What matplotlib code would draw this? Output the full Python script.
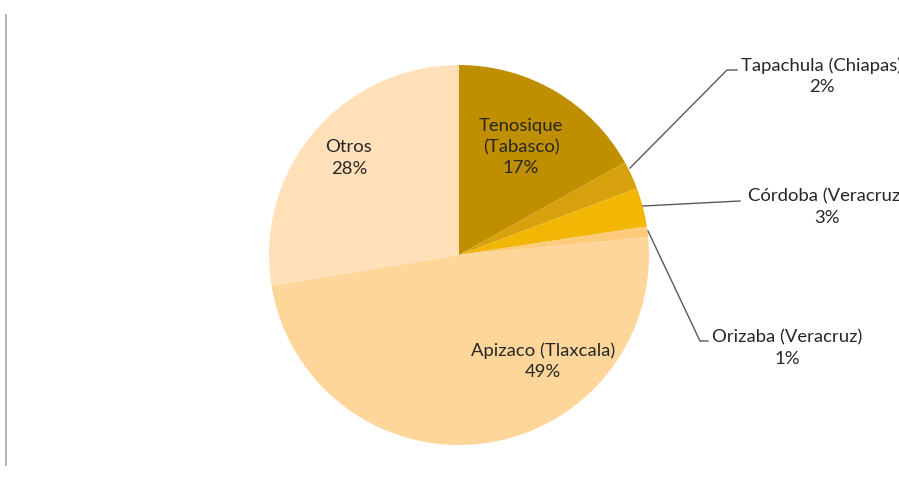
import matplotlib
matplotlib.use("Agg")
import matplotlib.pyplot as plt

categories = ["Tenosique\n(Tabasco)", "Tapachula (Chiapas)", "Córdoba (Veracruz)",
              "Orizaba (Veracruz)", "Apizaco (Tlaxcala)", "Otros"]
values = [16.9, 2.4, 3.3, 0.9, 48.9, 27.6]
colors = ["#BF8F00", "#D6A10C", "#F2B705", "#FFCB7A", "#FFD699", "#FFE0B8"]

plt.rcParams['font.family'] = ['Lato', 'DejaVu Sans']

W, H = 899, 491
fig = plt.figure(figsize=(W / 100, H / 100), dpi=100)
ax = fig.add_axes([0, 0, 1, 1])

cx, cy, r = 459, H - 255, 190
ax.pie(values, colors=colors, startangle=90, counterclock=False,
       center=(cx, cy), radius=r, frame=True,
       wedgeprops=dict(linewidth=0))
ax.set_xlim(0, W)
ax.set_ylim(0, H)
ax.set_aspect('equal')
ax.axis('off')

total = sum(values)
pct = [f"{v / total * 100:.0f}%" for v in values]
tc = "#262626"
fs = 13.3
ls = 1.4

# inside labels
ax.text(521, H - 147, f"{categories[0]}\n{pct[0]}", ha='center', va='center',
        fontsize=fs, color=tc, linespacing=ls)
ax.text(543, H - 361, f"{categories[4]}\n{pct[4]}", ha='center', va='center',
        fontsize=fs, color=tc, linespacing=ls)
ax.text(349, H - 158, f"{categories[5]}\n{pct[5]}", ha='center', va='center',
        fontsize=fs, color=tc, linespacing=ls)

# outside labels with leaders
lc = "#595959"
ax.plot([630, 727, 737], [H - 168, H - 70, H - 70], color=lc, lw=1)
ax.text(822, H - 76, f"{categories[1]}\n{pct[1]}", ha='center', va='center',
        fontsize=fs, color=tc, linespacing=ls, clip_on=False)
ax.plot([643, 740], [H - 206, H - 201], color=lc, lw=1)
ax.text(827, H - 207, f"{categories[2]}\n{pct[2]}", ha='center', va='center',
        fontsize=fs, color=tc, linespacing=ls, clip_on=False)
ax.plot([648, 700, 708], [H - 231, H - 341, H - 341], color=lc, lw=1)
ax.text(787, H - 348, f"{categories[3]}\n{pct[3]}", ha='center', va='center',
        fontsize=fs, color=tc, linespacing=ls)

# left border line
ax.plot([6, 6], [H - 15, H - 465], color="#A6A6A6", lw=1.2)

fig.savefig("out.png", dpi=100)
